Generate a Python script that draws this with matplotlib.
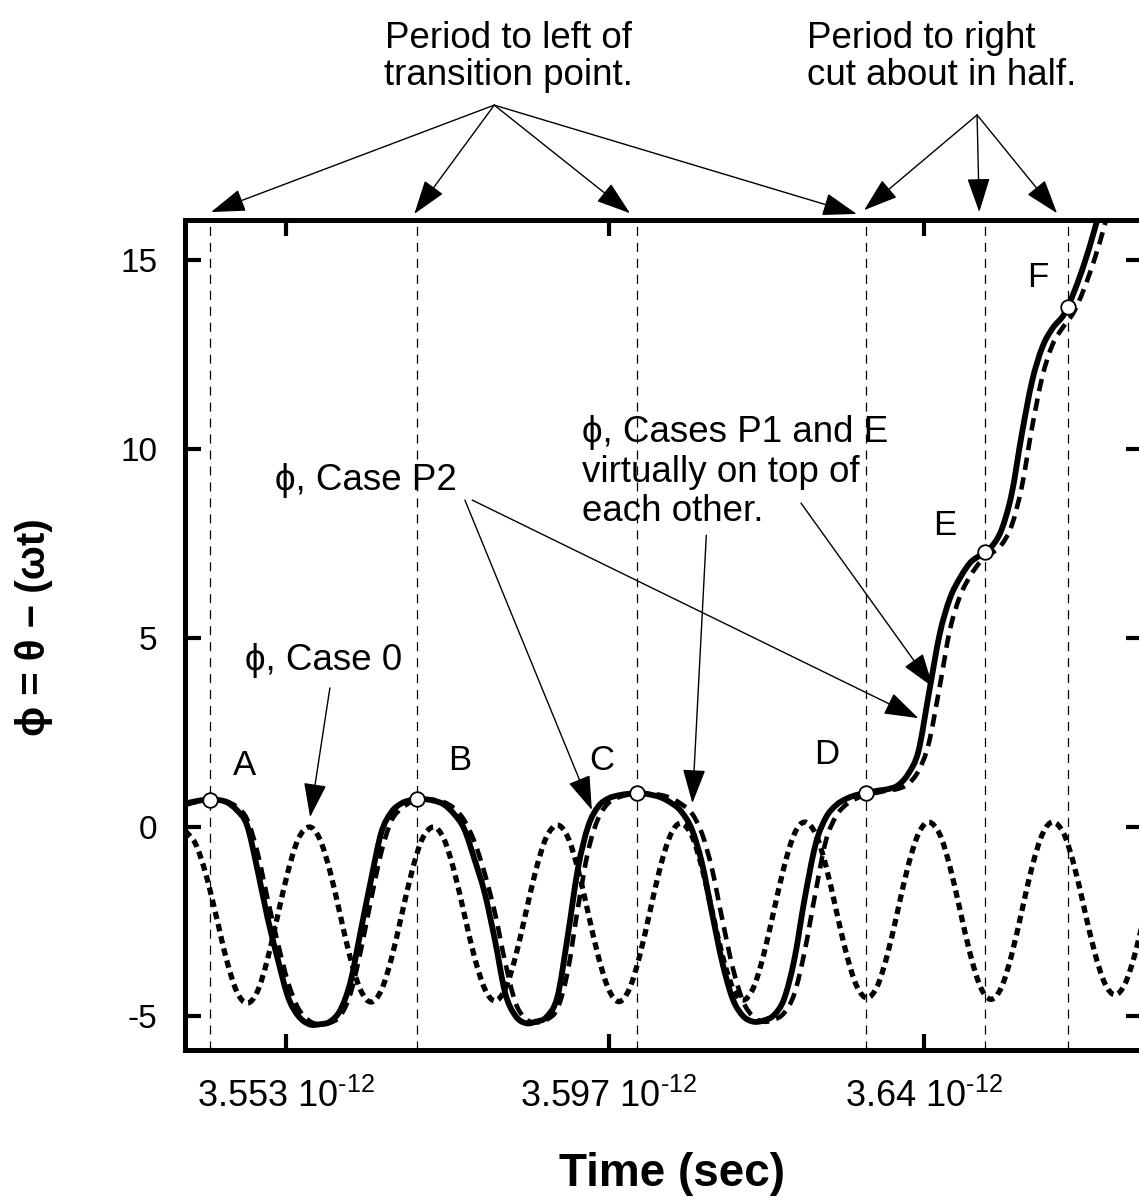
import numpy as np
import matplotlib.pyplot as plt
from matplotlib.path import Path
from matplotlib.patches import PathPatch

plt.rcParams['font.family'] = ['Liberation Sans', 'DejaVu Sans']
plt.rcParams['mathtext.fontset'] = 'custom'
plt.rcParams['mathtext.rm'] = 'Liberation Sans'
plt.rcParams['mathtext.it'] = 'Liberation Sans:italic'
plt.rcParams['mathtext.bf'] = 'Liberation Sans:bold'
plt.rcParams['axes.unicode_minus'] = False
plt.rcParams['lines.scale_dashes'] = False

# sample times, in units of 1e-12 s
time = [3.5393, 3.5407, 3.5421, 3.5435, 3.5449, 3.5463, 3.5477, 3.5491, 3.5505, 3.5519,
        3.5533, 3.5547, 3.5562, 3.5576, 3.5590, 3.5604, 3.5618, 3.5632, 3.5646, 3.5660,
        3.5674, 3.5688, 3.5702, 3.5716, 3.5731, 3.5745, 3.5759, 3.5773, 3.5787, 3.5801,
        3.5815, 3.5829, 3.5843, 3.5857, 3.5871, 3.5885, 3.5900, 3.5914, 3.5928, 3.5942,
        3.5956, 3.5970, 3.5984, 3.5998, 3.6012, 3.6026, 3.6040, 3.6054, 3.6068, 3.6083,
        3.6097, 3.6111, 3.6125, 3.6139, 3.6153, 3.6167, 3.6181, 3.6195, 3.6209, 3.6223,
        3.6237, 3.6252, 3.6266, 3.6280, 3.6294, 3.6308, 3.6322, 3.6336, 3.6350, 3.6364,
        3.6378, 3.6392, 3.6406, 3.6421, 3.6435, 3.6449, 3.6463, 3.6477, 3.6491, 3.6505,
        3.6519, 3.6533, 3.6547, 3.6561, 3.6575, 3.6590, 3.6604, 3.6618, 3.6632, 3.6646,
        3.6660, 3.6674, 3.6688, 3.6702]

# phase, Case 0
phi_case0 = [-0.1, -0.45, -1.25, -2.35, -3.5, -4.35, -4.66, -4.36, -3.5, -2.33,
             -1.17, -0.31, 0.0, -0.31, -1.16, -2.32, -3.48, -4.32, -4.63, -4.32,
             -3.47, -2.31, -1.16, -0.31, 0.0, -0.3, -1.14, -2.29, -3.44, -4.28,
             -4.6, -4.28, -3.43, -2.27, -1.12, -0.27, 0.05, -0.26, -1.11, -2.28,
             -3.44, -4.3, -4.62, -4.29, -3.42, -2.25, -1.08, -0.22, 0.1, -0.22,
             -1.07, -2.24, -3.41, -4.26, -4.58, -4.26, -3.39, -2.22, -1.05, -0.18,
             0.13, -0.18, -1.03, -2.2, -3.36, -4.21, -4.52, -4.21, -3.36, -2.2,
             -1.03, -0.18, 0.13, -0.19, -1.05, -2.22, -3.39, -4.25, -4.56, -4.25,
             -3.39, -2.22, -1.05, -0.19, 0.13, -0.17, -1.0, -2.15, -3.3, -4.13,
             -4.44, -4.13, -3.3, -2.15]

# phase, Case P2
phi_p2 = [0.62, 0.68, 0.72, 0.72, 0.66, 0.45, 0.05, -1.1, -2.4, -3.5,
          -4.5, -5.0, -5.22, -5.22, -5.15, -4.85, -4.1, -2.75, -1.4, -0.15,
          0.4, 0.63, 0.72, 0.74, 0.7, 0.6, 0.35, -0.05, -0.85, -1.75,
          -3.0, -4.4, -5.0, -5.19, -5.15, -5.03, -4.5, -2.9, -1.1, 0.02,
          0.55, 0.76, 0.84, 0.88, 0.9, 0.86, 0.79, 0.65, 0.43, -0.05,
          -0.95, -2.3, -3.6, -4.55, -5.0, -5.15, -5.12, -4.98, -4.55, -3.5,
          -1.9, -0.45, 0.25, 0.58, 0.75, 0.85, 0.9, 0.96, 1.0, 1.1,
          1.4, 2.0, 3.5, 5.1, 6.05, 6.6, 7.0, 7.2, 7.4, 7.85,
          8.8, 10.4, 11.8, 12.7, 13.2, 13.55, 14.15, 14.9, 15.8, 16.8]

# phase, Cases P1 and E
phi_p1e = [0.58, 0.66, 0.70, 0.72, 0.68, 0.53, 0.21, -0.65, -1.89, -3.07,
           -4.11, -4.8, -5.13, -5.22, -5.18, -5.0, -4.41, -3.28, -1.93, -0.67,
           0.17, 0.5, 0.67, 0.73, 0.72, 0.66, 0.5, 0.18, -0.39, -1.23,
           -2.28, -3.59, -4.65, -5.08, -5.17, -5.1, -4.81, -3.83, -2.14, -0.63,
           0.24, 0.64, 0.79, 0.86, 0.89, 0.88, 0.85, 0.77, 0.62, 0.37,
           -0.17, -1.13, -2.47, -3.72, -4.61, -5.02, -5.15, -5.1, -4.92, -4.41,
           -3.29, -1.71, -0.36, 0.29, 0.6, 0.76, 0.86, 0.91, 0.97, 1.01,
           1.14, 1.48, 2.2, 3.71, 5.22, 6.12, 6.65, 7.03, 7.23, 7.46,
           7.97, 9.01, 10.58, 11.92, 12.77, 13.25, 13.63, 14.25, 15.02, 15.93,
           16.96]

# transition points
point_names = ['A', 'B', 'C', 'D', 'E', 'F']
point_time = [3.5427, 3.5709, 3.6009, 3.6321, 3.6483, 3.6596]
point_phi = [0.71, 0.74, 0.90, 0.90, 7.28, 13.76]

xticks = [3.553, 3.597, 3.640]
xtick_labels = [r'3.553 10$^{\text{-12}}$', r'3.597 10$^{\text{-12}}$',
                r'3.64 10$^{\text{-12}}$']
yticks = [-5, 0, 5, 10, 15]


def smooth_path(x, y):
    # Catmull-Rom curve through the samples, as cubic Bezier segments
    x = np.asarray(x, float)
    y = np.asarray(y, float)
    xp = np.concatenate([[2 * x[0] - x[1]], x, [2 * x[-1] - x[-2]]])
    yp = np.concatenate([[2 * y[0] - y[1]], y, [2 * y[-1] - y[-2]]])
    verts = [(x[0], y[0])]
    codes = [Path.MOVETO]
    for i in range(1, len(xp) - 2):
        c1 = (xp[i] + (xp[i + 1] - xp[i - 1]) / 6, yp[i] + (yp[i + 1] - yp[i - 1]) / 6)
        c2 = (xp[i + 1] - (xp[i + 2] - xp[i]) / 6, yp[i + 1] - (yp[i + 2] - yp[i]) / 6)
        verts += [c1, c2, (xp[i + 1], yp[i + 1])]
        codes += [Path.CURVE4] * 3
    return Path(verts, codes)


def draw_curve(ax, y, **kw):
    patch = PathPatch(smooth_path(time[:len(y)], y), fill=False, edgecolor='black',
                      joinstyle='round', **kw)
    ax.add_patch(patch)


def add_arrow(ax, start, tip):
    ax.annotate('', xy=tip, xytext=start, annotation_clip=False,
                arrowprops=dict(arrowstyle='-|>,head_length=1.35,head_width=0.45',
                                color='black', lw=1.0, shrinkA=0, shrinkB=0,
                                mutation_scale=16))


def main():
    fig = plt.figure(figsize=(11.39, 11.97), dpi=100)
    ax = fig.add_axes([0.1624, 0.1228, 0.8402, 0.6934])

    for tp in point_time:
        ax.axvline(tp, color='black', lw=0.9, dashes=(6.5, 5), zorder=1)

    draw_curve(ax, phi_case0, lw=3.8, linestyle=(0, (5.4, 3.6)), zorder=2)
    draw_curve(ax, phi_p1e, lw=3.3, linestyle=(0, (9, 5.4)), zorder=3)
    draw_curve(ax, phi_p2, lw=4.2, zorder=4)
    ax.plot(point_time, point_phi, 'o', ms=10.5, mfc='white', mec='black',
            mew=1.3, zorder=5)

    # letters next to each transition point
    letter_pos = [(3.5474, 1.64), (3.5767, 1.77), (3.5961, 1.77),
                  (3.6267, 1.93), (3.6428, 7.99), (3.6555, 14.55)]
    for name, (lx, ly) in zip(point_names, letter_pos):
        ax.text(lx, ly, name, fontsize=25, ha='center', va='center')

    # curve annotations
    ax.text(3.5474, 4.15, '\u03d5, Case 0', fontsize=26.5, va='baseline')
    add_arrow(ax, (3.5590, 3.68), (3.5563, 0.26))

    ax.text(3.5515, 8.92, '\u03d5, Case P2', fontsize=26.5, va='baseline')
    add_arrow(ax, (3.5774, 8.65), (3.5947, 0.45))
    add_arrow(ax, (3.5784, 8.65), (3.6392, 2.88))

    for line, ly in zip(['\u03d5, Cases P1 and E', 'virtually on top of', 'each other.'],
                        [10.19, 9.13, 8.10]):
        ax.text(3.5934, ly, line, fontsize=26.5, va='baseline')
    add_arrow(ax, (3.6103, 7.72), (3.6084, 0.63))
    add_arrow(ax, (3.6232, 8.57), (3.6412, 3.70))

    # notes above the frame
    ax.text(3.5833, 20.62, 'Period to left of', fontsize=26.5, ha='center', va='baseline')
    ax.text(3.5833, 19.62, 'transition point.', fontsize=26.5, ha='center', va='baseline')
    for tip in [(3.5428, 16.27), (3.5705, 16.22), (3.5999, 16.24), (3.6308, 16.22)]:
        add_arrow(ax, (3.5814, 19.10), tip)

    ax.text(3.6240, 20.62, 'Period to right', fontsize=26.5, va='baseline')
    ax.text(3.6240, 19.62, 'cut about in half.', fontsize=26.5, va='baseline')
    for tip in [(3.6318, 16.32), (3.6475, 16.27), (3.6581, 16.24)]:
        add_arrow(ax, (3.6472, 18.84), tip)

    ax.set_xlim(3.53925, 3.66967)
    ax.set_ylim(-5.9, 16.06)
    ax.set_xticks(xticks)
    ax.set_xticklabels(xtick_labels)
    ax.set_yticks(yticks)

    for s in ax.spines.values():
        s.set_linewidth(3.6)
    ax.tick_params(direction='in', length=11.5, width=3, top=True, right=True)
    ax.tick_params(axis='y', labelsize=24, pad=20)
    ax.tick_params(axis='x', labelsize=26, pad=21)

    fig.text(0.590, 0.019, 'Time (sec)', fontsize=33, fontweight='bold',
             ha='center', va='center')
    fig.text(0.0299, 0.476, '\u03d5 = \u03b8 \u2212 (\u03c9t)', fontsize=29,
             fontweight='bold', rotation=90, ha='center', va='center')

    fig.savefig('out.png', dpi=100)


if __name__ == '__main__':
    main()
